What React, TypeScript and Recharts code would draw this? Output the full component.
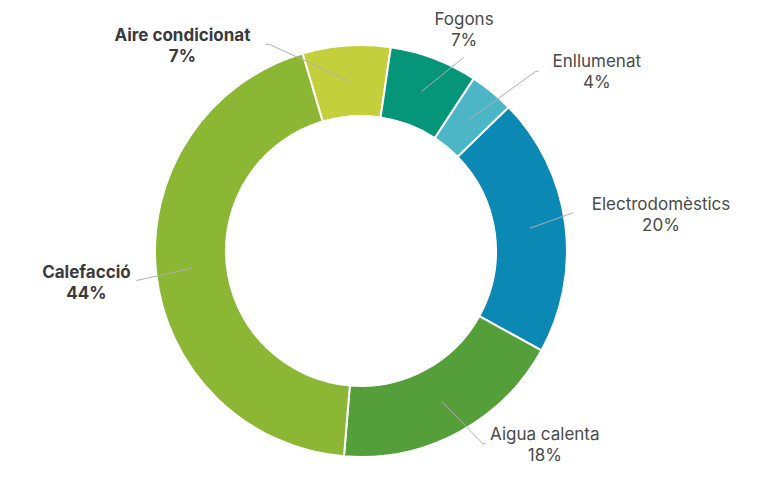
import React from 'react';
import { PieChart, Pie, Cell } from 'recharts';

const categories = ['Aire condicionat', 'Fogons', 'Enllumenat', 'Electrodomèstics', 'Aigua calenta', 'Calefacció'];
const shares = [6.9, 6.9, 3.5, 20.3, 18.3, 44.1];
const shareLabels = ['7%', '7%', '4%', '20%', '18%', '44%'];
const colors = ['#c3d03b', '#05967a', '#4db6c6', '#0b89b4', '#559f3a', '#8bb734'];

// where each leader line ends (clockwise degrees from 12 o'clock, px from centre) and where its text sits
const labelLayout = [
  { angle: -23.9, radius: 226, dx: -87, dy: -8, tick: -4, bold: true },
  { angle: 28, radius: 219.5, dx: 0, dy: -37, tick: 0, bold: false },
  { angle: 44.2, radius: 250.7, dx: 61, dy: -9, tick: 3, bold: false },
  { angle: 79.8, radius: 215.4, dx: 88, dy: -8, tick: 0, bold: false },
  { angle: 147.7, radius: 228, dx: 62, dy: -9, tick: 3, bold: false },
  { angle: 262.5, radius: 226.5, dx: -50, dy: -8, tick: 0, bold: true },
];

const data = categories.map((name, i) => ({ name, value: shares[i], label: shareLabels[i] }));

const RAD = Math.PI / 180;

function renderLabel(props: any) {
  const { cx, cy, midAngle, innerRadius, outerRadius, index } = props;
  const lay = labelLayout[index];
  const midR = (innerRadius + outerRadius) / 2;
  const sx = cx + midR * Math.cos(-midAngle * RAD);
  const sy = cy + midR * Math.sin(-midAngle * RAD);
  const ex = cx + lay.radius * Math.sin(lay.angle * RAD);
  const ey = cy - lay.radius * Math.cos(lay.angle * RAD);
  const tx = ex + lay.dx;
  const ty = ey + lay.dy;
  const fill = lay.bold ? '#3a3a3a' : '#4a4a4a';
  return (
    <g key={`lbl-${index}`}>
      <polyline
        points={`${sx},${sy} ${ex},${ey} ${ex + lay.tick},${ey}`}
        fill="none"
        stroke="#b0b0b0"
        strokeWidth={1}
      />
      <text
        x={tx}
        y={ty}
        textAnchor="middle"
        dominantBaseline="middle"
        fontFamily="Inter, 'Noto Sans', sans-serif"
        fontSize={17}
        fontWeight={lay.bold ? 700 : 400}
        fill={fill}
      >
        <tspan x={tx} dy={0}>{data[index].name}</tspan>
        <tspan x={tx} dy={21}>{data[index].label}</tspan>
      </text>
    </g>
  );
}

export default function App() {
  return (
    <div style={{ position: 'absolute', left: 0, top: 0, width: 768, height: 488, background: '#fff' }}>
      <PieChart width={768} height={488}>
        <Pie
          data={data}
          dataKey="value"
          nameKey="name"
          cx={356}
          cy={246}
          innerRadius={135}
          outerRadius={206}
          startAngle={106.5}
          endAngle={-253.5}
          stroke="#ffffff"
          strokeWidth={2}
          label={renderLabel}
          labelLine={false}
          isAnimationActive={false}
        >
          {data.map((d, i) => (
            <Cell key={d.name} fill={colors[i]} />
          ))}
        </Pie>
      </PieChart>
    </div>
  );
}
